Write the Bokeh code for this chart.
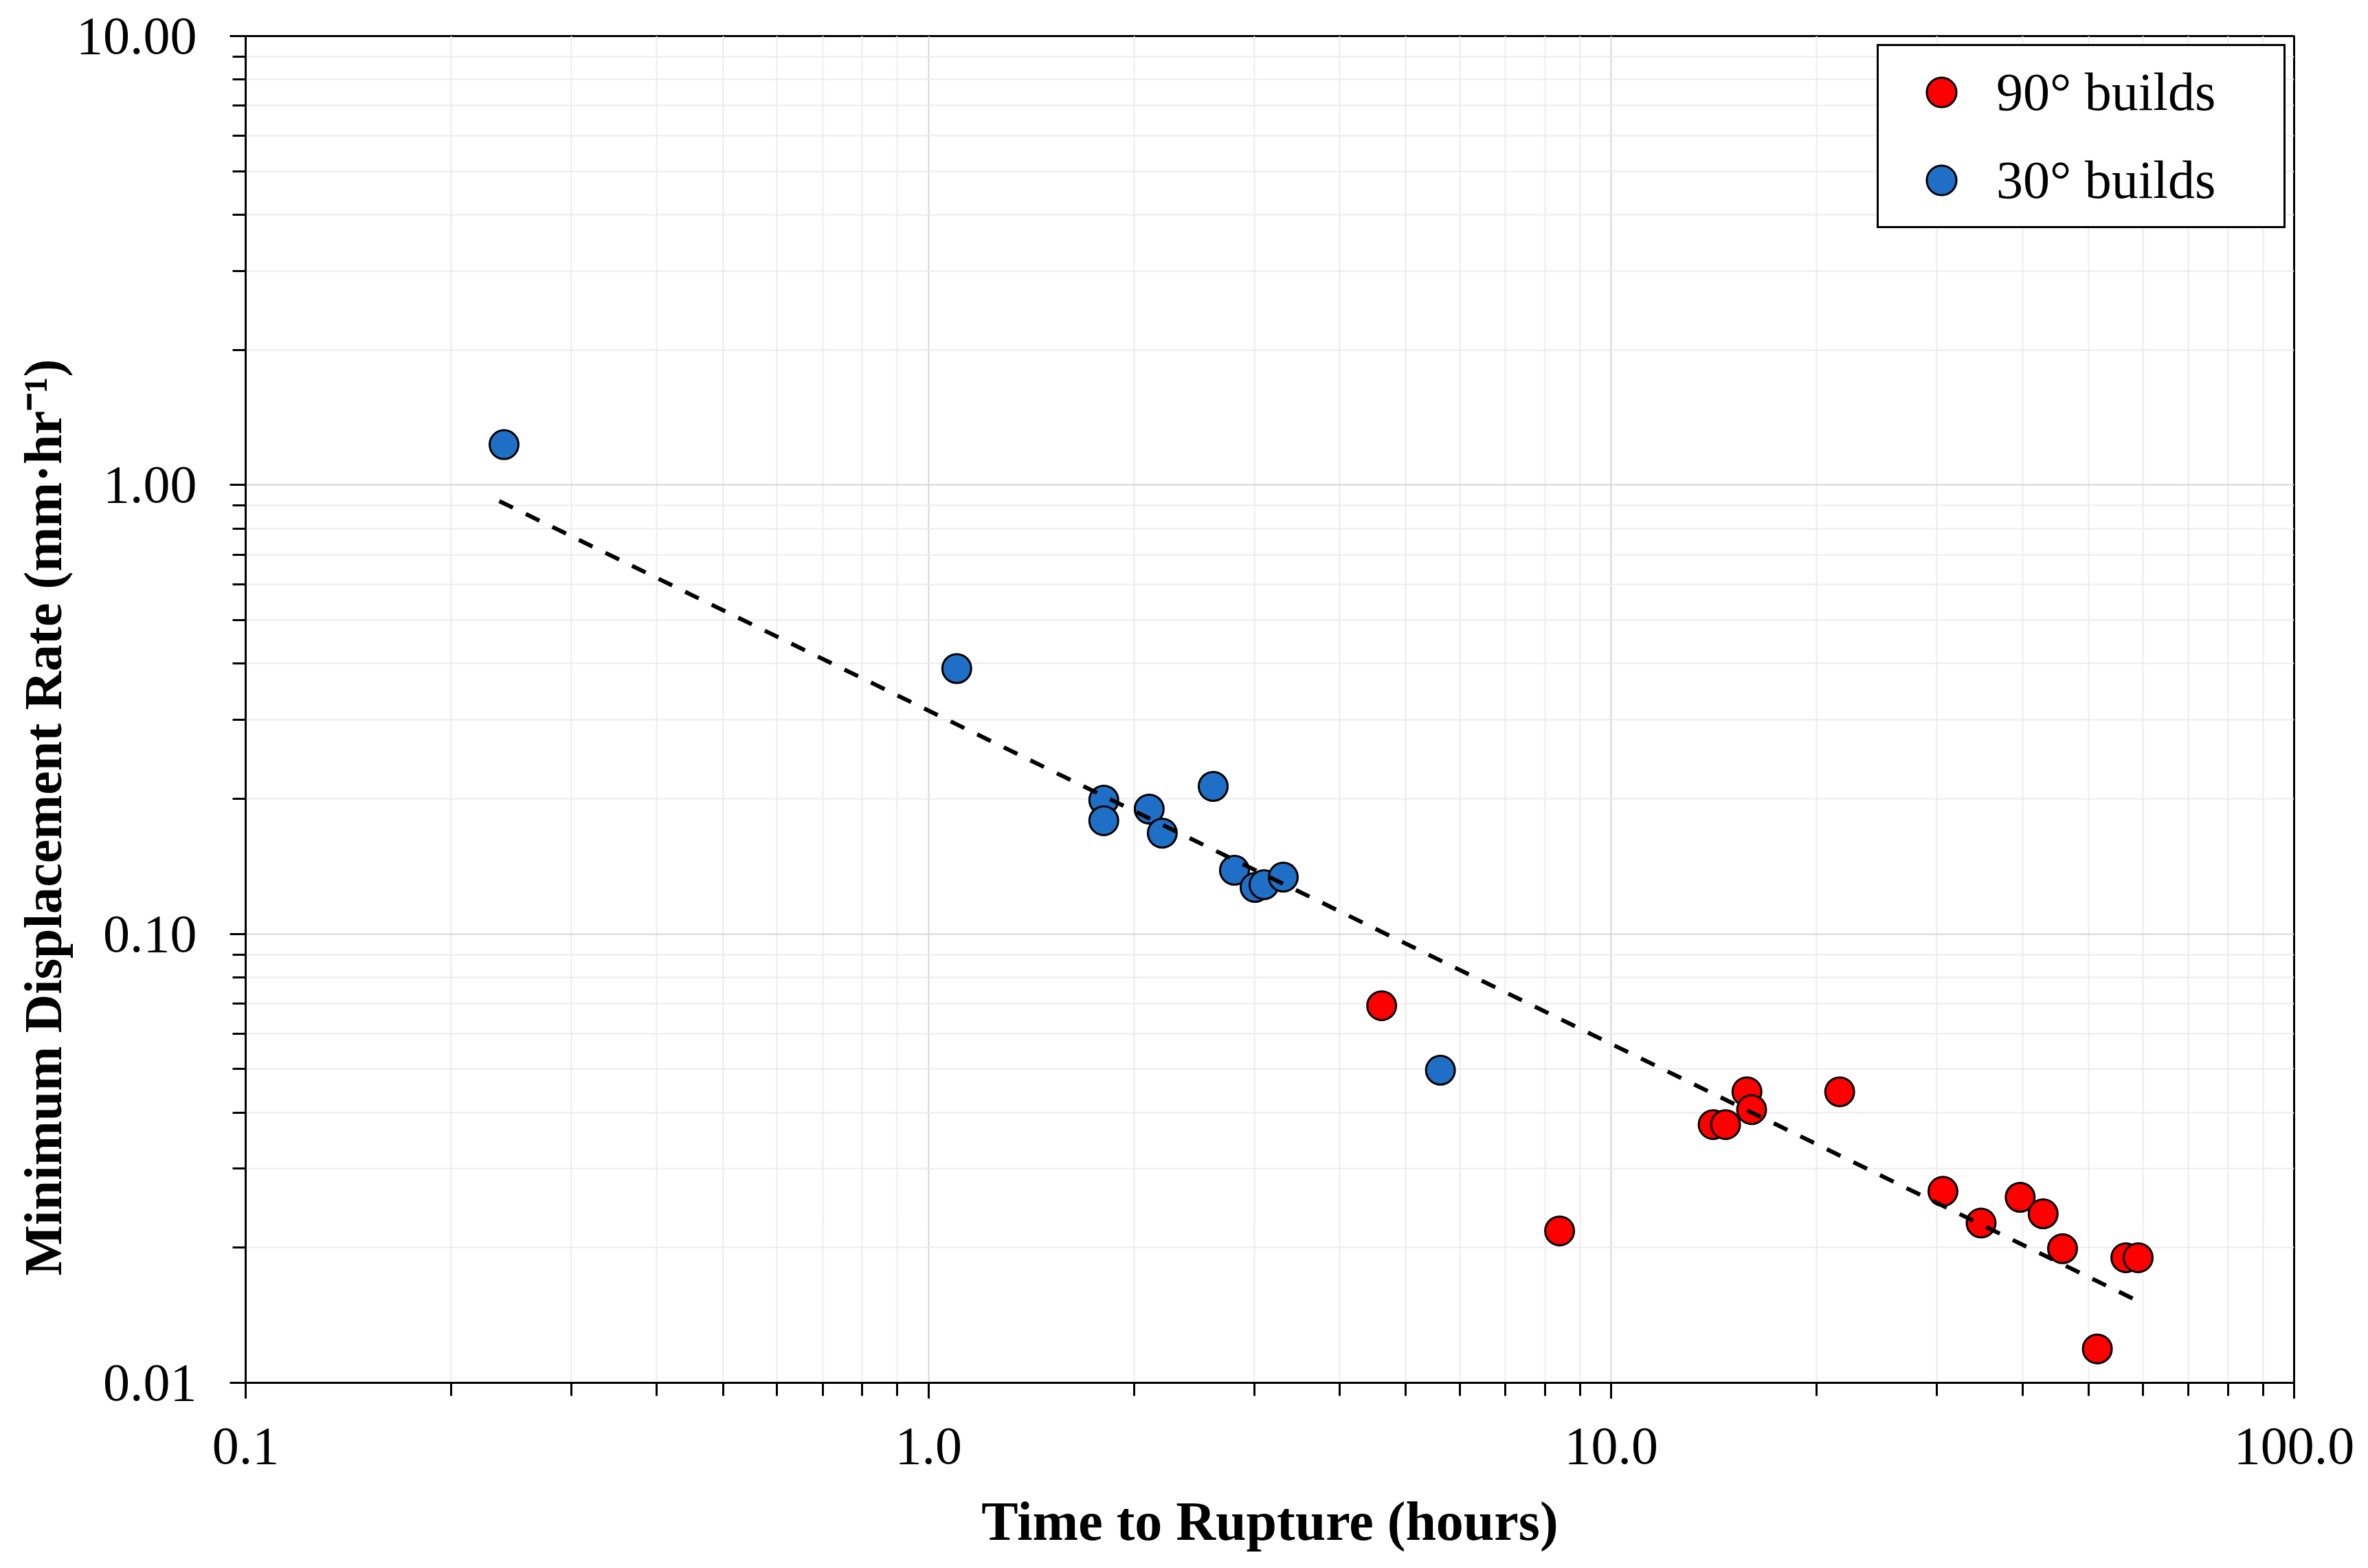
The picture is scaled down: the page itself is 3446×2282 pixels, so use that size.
from bokeh.plotting import figure
from bokeh.models import Range1d, FixedTicker, Legend, LegendItem, Title
from bokeh.embed import file_html
from bokeh.resources import INLINE

# ---- data ----
x_90 = [4.61, 8.40, 14.1, 14.7, 15.8, 16.05, 21.6, 30.6, 34.8, 39.7, 42.9, 45.8, 51.5, 56.7, 59.1]
y_90 = [0.0692, 0.0218, 0.0376, 0.0376, 0.0445, 0.0406, 0.0445, 0.0267, 0.0227, 0.0259, 0.0238,
        0.0199, 0.0119, 0.0190, 0.0190]
x_30 = [0.239, 1.10, 1.806, 1.806, 2.105, 2.20, 2.612, 2.806, 3.008, 3.10, 3.308, 5.62]
y_30 = [1.23, 0.390, 0.1986, 0.1787, 0.1897, 0.1677, 0.2131, 0.1386, 0.1269, 0.1287, 0.1338, 0.0497]
trend_x = [0.2352, 59.1]
trend_y = [0.921, 0.0152]

x_ticks = [0.1, 1.0, 10.0, 100.0]
x_tick_labels = ["0.1", "1.0", "10.0", "100.0"]
y_ticks = [0.01, 0.1, 1.0, 10.0]
y_tick_labels = ["0.01", "0.10", "1.00", "10.00"]
x_minor = [m * d for d in (0.1, 1.0, 10.0) for m in range(2, 10)]
y_minor = [m * d for d in (0.01, 0.1, 1.0) for m in range(2, 10)]

label_90 = "90° builds"
label_30 = "30° builds"
x_title = "Time to Rupture (hours)"
y_title = "Minimum Displacement Rate (mm·hr⁻¹)"

FONT = "Liberation Serif"

p = figure(width=3430, height=2266, x_axis_type="log", y_axis_type="log",
           x_range=Range1d(0.1, 100), y_range=Range1d(0.01, 10),
           output_backend="svg", toolbar_location=None,
           min_border_left=357, min_border_right=92, min_border_top=52, min_border_bottom=254)

p.background_fill_color = "white"
p.border_fill_color = "white"
p.outline_line_color = "black"
p.outline_line_width = 3

# axes
p.xaxis.ticker = FixedTicker(ticks=x_ticks, minor_ticks=x_minor)
p.yaxis.ticker = FixedTicker(ticks=y_ticks, minor_ticks=y_minor)
p.xaxis.major_label_overrides = dict(zip(x_ticks, x_tick_labels))
p.yaxis.major_label_overrides = dict(zip(y_ticks, y_tick_labels))

for ax in (p.xaxis[0], p.yaxis[0]):
    ax.axis_line_color = "black"
    ax.axis_line_width = 3
    ax.major_tick_line_color = "black"
    ax.major_tick_line_width = 3
    ax.minor_tick_line_color = "black"
    ax.minor_tick_line_width = 3
    ax.major_tick_in = 0
    ax.major_tick_out = 23
    ax.minor_tick_in = 0
    ax.minor_tick_out = 19
    ax.major_label_text_font = FONT
    ax.major_label_text_font_size = "78px"
    ax.major_label_text_color = "black"
    ax.axis_label_text_font = FONT
    ax.axis_label_text_font_size = "80px"
    ax.axis_label_text_font_style = "bold"
    ax.axis_label_text_color = "black"

p.xaxis.axis_label = x_title
p.xaxis.major_label_standoff = 43
p.xaxis.axis_label_standoff = 37
p.yaxis.major_label_standoff = 48

# y title placed off-centre like the reference
ytitle = Title(text=y_title, align="left", offset=156, vertical_align="bottom",
               text_font=FONT, text_font_size="78px", text_font_style="bold",
               text_color="black", standoff=4)
p.add_layout(ytitle, "left")

# grids
for g in (p.xgrid[0], p.ygrid[0]):
    g.grid_line_color = "#d6d6d6"
    g.grid_line_width = 2
    g.minor_grid_line_color = "#ececec"
    g.minor_grid_line_width = 2
p.xgrid.ticker = p.xaxis[0].ticker
p.ygrid.ticker = p.yaxis[0].ticker

# data
r90 = p.scatter(x_90, y_90, size=42, fill_color="#ff0000", line_color="black", line_width=3)
r30 = p.scatter(x_30, y_30, size=42, fill_color="#1f6fc6", line_color="black", line_width=3)
p.line(trend_x, trend_y, line_color="black", line_width=6, line_dash="22 21")

legend = Legend(items=[LegendItem(label=label_90, renderers=[r90]),
                       LegendItem(label=label_30, renderers=[r30])],
                location="top_right")
legend.label_text_font = FONT
legend.label_text_font_size = "78px"
legend.label_text_color = "black"
legend.glyph_width = 156
legend.glyph_height = 108
legend.label_standoff = 2
legend.label_width = 405
legend.spacing = 20
legend.padding = 13
legend.margin = 12
legend.border_line_color = "black"
legend.border_line_alpha = 1.0
legend.border_line_width = 3
legend.background_fill_color = "white"
legend.background_fill_alpha = 1.0
p.add_layout(legend)

open("out.html", "w").write(file_html(p, INLINE))
